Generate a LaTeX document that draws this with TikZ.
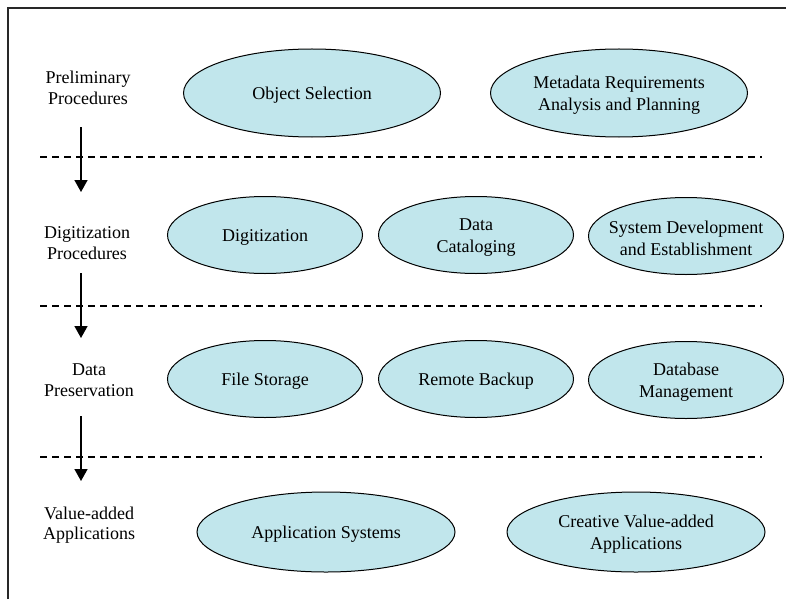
\documentclass[tikz,border=0pt]{standalone}
\usepackage{fontspec}
\setmainfont{Liberation Serif}
\usetikzlibrary{shapes.geometric,arrows.meta}
\definecolor{stagefill}{RGB}{193,230,236}
\definecolor{framegray}{RGB}{40,40,40}
\begin{document}
\begin{tikzpicture}[x=1pt,y=-1pt,
  stagebox/.style={ellipse,draw=black,line width=1pt,fill=stagefill,inner sep=0pt},
  stagetext/.style={align=center,inner sep=0pt,yshift=-2.5pt,font=\fontsize{18}{22}\selectfont},
  wide/.style={minimum width=257pt,minimum height=88pt},
  narrow/.style={minimum width=195pt,minimum height=77pt},
  wideb/.style={minimum width=258pt,minimum height=80pt},
  phase/.style={align=center,font=\fontsize{18}{20.5}\selectfont,inner sep=0pt},
  divider/.style={dashed,dash pattern=on 7pt off 5pt,line width=1.1pt},
  flow/.style={line width=1.6pt,-{Triangle[length=12pt,width=13pt]}}]
\useasboundingbox (0,0) rectangle (786,599);
% frame edges
\draw[framegray,line width=1.5pt] (8,599) -- (8,8) -- (786,8);

% phase labels
\node[phase] (p1) at (88,88) {Preliminary\\Procedures};
\node[phase] (p2) at (87,243) {Digitization\\Procedures};
\node[phase] (p3) at (89,380) {Data\\Preservation};
\node[phase] (p4) at (89,525) {Value-added\\Applications};

% dividers
\coordinate (d1a) at (40,157); \coordinate (d1b) at (762,157);
\coordinate (d2a) at (40,306); \coordinate (d2b) at (762,306);
\coordinate (d3a) at (40,457); \coordinate (d3b) at (762,457);
\draw[divider] (d1a) -- (d1b);
\draw[divider] (d2a) -- (d2b);
\draw[divider] (d3a) -- (d3b);

% flow arrows
\coordinate (a1s) at (81,127); \coordinate (a1e) at (81,192);
\coordinate (a2s) at (81,273); \coordinate (a2e) at (81,338);
\coordinate (a3s) at (81,416); \coordinate (a3e) at (81,481);
\draw[flow] (a1s) -- (a1e);
\draw[flow] (a2s) -- (a2e);
\draw[flow] (a3s) -- (a3e);

% row 1
\node[stagebox,wide,label={[stagetext]center:Object Selection}] (objsel) at (312,93) {};
\node[stagebox,wide,label={[stagetext]center:{Metadata Requirements\\Analysis and Planning}}] (meta) at (619,93) {};

% row 2
\node[stagebox,narrow,label={[stagetext]center:Digitization}] (digit) at (265,235) {};
\node[stagebox,narrow,label={[stagetext]center:{Data\\Cataloging}}] (catal) at (476,235) {};
\node[stagebox,narrow,label={[stagetext]center:{System Development\\and Establishment}}] (sysdev) at (686,236) {};

% row 3
\node[stagebox,narrow,label={[stagetext]center:File Storage}] (store) at (265,379) {};
\node[stagebox,narrow,label={[stagetext]center:Remote Backup}] (backup) at (476,379) {};
\node[stagebox,narrow,label={[stagetext]center:{Database\\Management}}] (dbm) at (686,380) {};

% row 4
\node[stagebox,wideb,label={[stagetext]center:Application Systems}] (appsys) at (326,532) {};
\node[stagebox,wideb,label={[stagetext]center:{Creative Value-added\\Applications}}] (creative) at (636,532) {};
\end{tikzpicture}
\end{document}
